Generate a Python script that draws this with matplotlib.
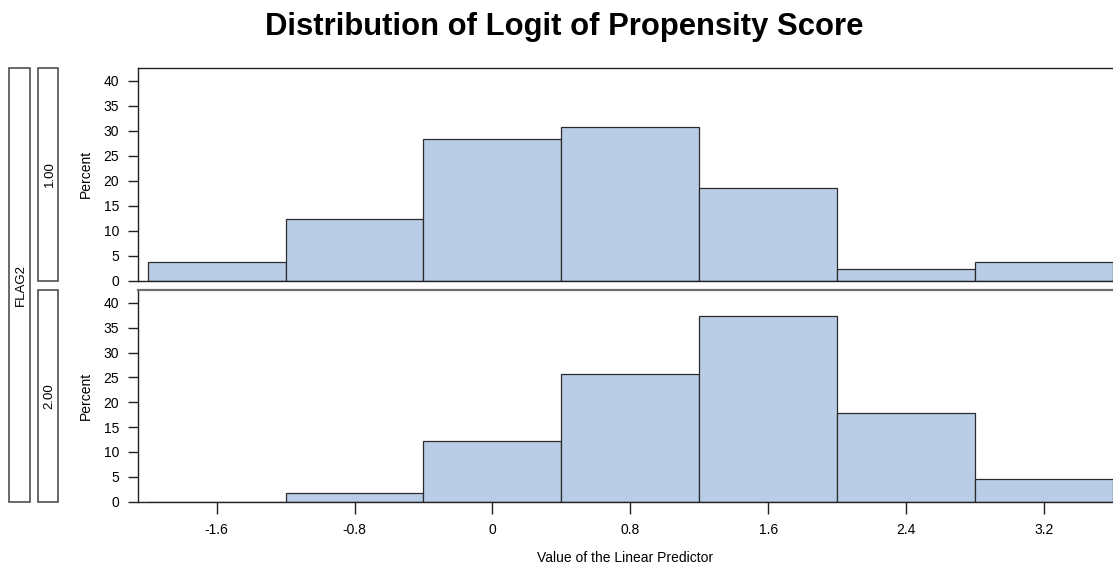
import matplotlib
matplotlib.use("Agg")
import matplotlib.pyplot as plt
from matplotlib.patches import Rectangle

plt.rcParams['font.family'] = ['Liberation Sans', 'DejaVu Sans']

# Data
bin_centers = [-1.6, -0.8, 0.0, 0.8, 1.6, 2.4, 3.2]
bin_width = 0.8
group_labels = ["1.00", "2.00"]
pct_flag1 = [3.8, 12.3, 28.4, 30.8, 18.5, 2.4, 3.8]
pct_flag2 = [0.0, 1.7, 12.2, 25.6, 37.4, 17.9, 4.6]
xtick_vals = [-1.6, -0.8, 0, 0.8, 1.6, 2.4, 3.2]
xtick_labels = ["-1.6", "-0.8", "0", "0.8", "1.6", "2.4", "3.2"]
ytick_vals = [0, 5, 10, 15, 20, 25, 30, 35, 40]

W, H = 1113, 567
fig = plt.figure(figsize=(W / 100, H / 100), dpi=100)

def px_axes(x0, y0, x1, y1):
    return fig.add_axes([x0 / W, 1 - y1 / H, (x1 - x0) / W, (y1 - y0) / H])

bar_color = '#B9CEE6'
edge_color = '#2b2b2b'

panels = [(68, 280.7, pct_flag1), (290, 501.5, pct_flag2)]
axes = []
for i, (top, bot, vals) in enumerate(panels):
    ax = px_axes(138, top, W, bot)
    ax.bar(bin_centers, vals, width=bin_width, color=bar_color,
           edgecolor=edge_color, linewidth=0.9)
    ax.set_xlim(-2.057, 3.602)
    ax.set_ylim(0, 42.6)
    ax.set_yticks(ytick_vals)
    ax.set_yticklabels([str(v) for v in ytick_vals], fontsize=10)
    ax.tick_params(axis='y', length=7.5, width=1.0, pad=6, color='#222222')
    ax.spines['right'].set_visible(False)
    for s in ['left', 'top', 'bottom']:
        ax.spines[s].set_linewidth(1.0)
        ax.spines[s].set_color('#222222')
    if i == 1:
        ax.spines['top'].set_color('#6e6e6e')
        ax.spines['top'].set_linewidth(1.6)
    ax.set_ylabel("Percent", fontsize=10, labelpad=8)
    if i == 1:
        ax.set_xticks(xtick_vals)
        ax.set_xticklabels(xtick_labels, fontsize=10)
        ax.tick_params(axis='x', length=8.5, width=1.0, pad=7, color='#222222')
        ax.set_xlabel("Value of the Linear Predictor", fontsize=10, labelpad=10)
    else:
        ax.set_xticks([])
    axes.append(ax)

# Strip boxes
def strip_box(x0, y0, x1, y1, label):
    r = Rectangle((x0 / W, 1 - y1 / H), (x1 - x0) / W, (y1 - y0) / H,
                  transform=fig.transFigure, fill=False,
                  edgecolor='#404040', linewidth=1.1)
    fig.patches.append(r)
    fig.text((x0 + x1) / 2 / W + 1.5 / W, 1 - (y0 + y1) / 2 / H, label, rotation=90,
             ha='center', va='center', fontsize=9.5)

strip_box(9, 68, 29.7, 501.7, "FLAG2")
strip_box(38, 68, 58.3, 280.7, group_labels[0])
strip_box(38, 290, 58.3, 501.7, group_labels[1])

fig.text(564 / W, 1 - 27 / H, "Distribution of Logit of Propensity Score",
         ha='center', va='center', fontsize=22.3, fontweight='bold')

fig.savefig("out.png", dpi=100)
